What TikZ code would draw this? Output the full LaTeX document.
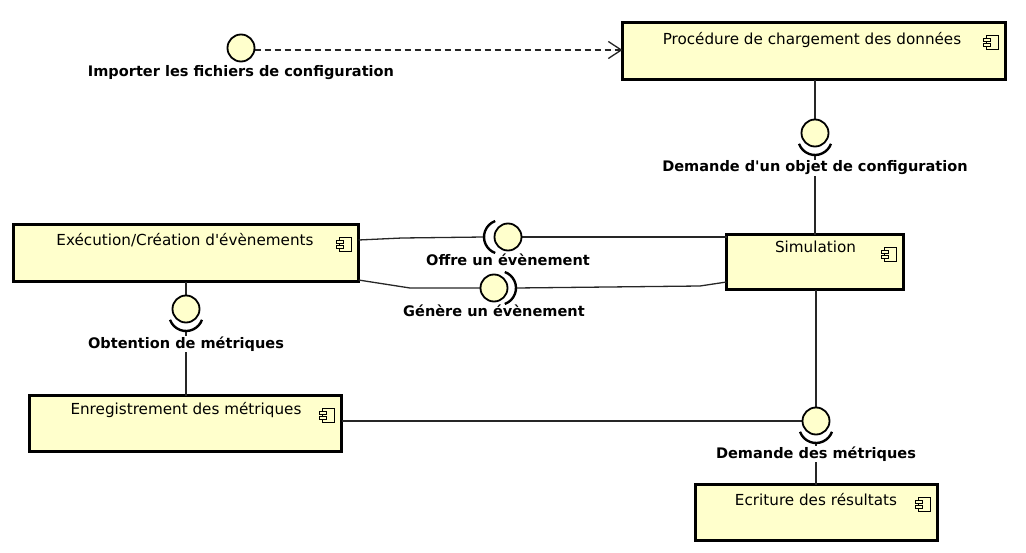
\documentclass[tikz,border=0pt]{standalone}
\usepackage{fontspec}
\setmainfont{DejaVu Sans}[Ligatures=TeXOff]
\usetikzlibrary{arrows.meta,calc}
\definecolor{compfill}{HTML}{FFFFCC}
\tikzset{
  cicon/.pic={
    \draw[line width=0.75pt, fill=compfill] (-12,0) rectangle (0,14);
    \draw[line width=0.75pt, fill=compfill] (-15,3) rectangle (-8,6);
    \draw[line width=0.75pt, fill=compfill] (-15,8) rectangle (-8,11);
  }
}
\begin{document}
\begin{tikzpicture}[x=0.75pt,y=-0.75pt,
  comp/.style={draw=black, line width=2.25pt, fill=compfill, inner sep=0pt, outer sep=0pt},
  comptext/.style={font=\fontsize{11.4}{13}\selectfont, anchor=base, inner sep=0pt},
  ball/.style={circle, draw=black, line width=1.35pt, fill=compfill, minimum size=20.25pt, inner sep=0pt, outer sep=0pt},
  sock/.style={draw=black, line width=1.8pt},
  conn/.style={draw=black!85, line width=0.975pt},
  lbl/.style={font=\fontsize{10.9}{12}\selectfont\bfseries, fill=white, inner sep=0.6pt},
  dep/.style={conn, dash pattern=on 4.5pt off 3pt, -{Straight Barb[length=9.75pt,width=12.75pt]}}
]
\useasboundingbox (0,0) rectangle (1026,553);

% components
\node[comp, minimum width=287.25pt, minimum height=42.75pt] (proc) at (814,51) {};
\node[comp, minimum width=258.75pt, minimum height=42.75pt] (exe) at (186,253) {};
\node[comp, minimum width=132.75pt, minimum height=41.25pt] (sim) at (815,262) {};
\node[comp, minimum width=234pt, minimum height=42pt] (enr) at (185.5,423.5) {};
\node[comp, minimum width=181.5pt, minimum height=42pt] (ecr) at (816.5,512.5) {};

\node[comptext] (tproc) at (812,44) {Procédure de chargement des données};
\node[comptext] (texe) at (185,245) {Exécution/Création d'évènements};
\node[comptext] (tsim) at (815.5,252) {Simulation};
\node[comptext] (tenr) at (186,414) {Enregistrement des métriques};
\node[comptext] (tecr) at (816,505) {Ecriture des résultats};

\pic at ($(proc.north east)+(-7.5,12.5)$) {cicon};
\pic at ($(exe.north east)+(-7.5,12.5)$) {cicon};
\pic at ($(sim.north east)+(-7.5,12.5)$) {cicon};
\pic at ($(enr.north east)+(-7.5,12.5)$) {cicon};
\pic at ($(ecr.north east)+(-7.5,12.5)$) {cicon};

% interface positions
\coordinate (b0c) at (241,48);
\coordinate (b1c) at (815,133);
\coordinate (b2c) at (508,237);
\coordinate (b3c) at (494,288);
\coordinate (b4c) at (186,309);
\coordinate (b5c) at (816,421);

% socket end points
\coordinate (s1) at ($(b1c)+(0,22)$);
\coordinate (s2) at ($(b2c)+(-24,0)$);
\coordinate (s3) at ($(b3c)+(22,0)$);
\coordinate (s4) at ($(b4c)+(0,22)$);
\coordinate (s5) at ($(b5c)+(0,22)$);

% connectors
\coordinate (d0) at ($(b0c)+(13.5,2)$);
\draw[dep] (d0) -- (d0 -| proc.west);
\draw[conn] (b1c |- proc.south) -- ($(b1c)+(0,-13.5)$);
\draw[conn] (s1) -- (s1 |- sim.north);
\draw[conn] ($(exe.north east)+(0,15.5)$) -- (402,238) -- (s2);
\coordinate (o2) at ($(b2c)+(13.5,0)$);
\draw[conn] (o2) -- (o2 -| sim.west);
\draw[conn] ($(exe.south east)+(0,-1.5)$) -- (410,288) -- ($(b3c)+(-13.5,0)$);
\draw[conn] (s3) -- (700,286) -- ($(sim.south west)+(0,-7.5)$);
\draw[conn] (b4c |- exe.south) -- ($(b4c)+(0,-13.5)$);
\draw[conn] (s4) -- (s4 |- enr.north);
\draw[conn] (b5c |- sim.south) -- ($(b5c)+(0,-13.5)$);
\draw[conn] (b5c -| enr.east) -- ($(b5c)+(-13.5,0)$);
\draw[conn] (s5) -- (s5 |- ecr.north);

% labels
\node[lbl] (l0) at (241,73) {Importer les fichiers de configuration};
\node[lbl] (l1) at (815,168) {Demande d'un objet de configuration};
\node[lbl] (l2) at (508,260) {Offre un évènement};
\node[lbl] (l3) at (494,311) {Génère un évènement};
\node[lbl] (l4) at (186,344) {Obtention de métriques};
\node[lbl] (l5) at (816,454) {Demande des métriques};

% balls
\node[ball] (b0) at (b0c) {};
\node[ball] (b1) at (b1c) {};
\node[ball] (b2) at (b2c) {};
\node[ball] (b3) at (b3c) {};
\node[ball] (b4) at (b4c) {};
\node[ball] (b5) at (b5c) {};

% sockets
\draw[sock] ($(b1c)+(0,5)$) ++(20:17) arc[start angle=20, end angle=160, radius=17];
\draw[sock] ($(b4c)+(0,5)$) ++(20:17) arc[start angle=20, end angle=160, radius=17];
\draw[sock] ($(b5c)+(0,5)$) ++(20:17) arc[start angle=20, end angle=160, radius=17];
\draw[sock] ($(b2c)+(-7,0)$) ++(110:17) arc[start angle=110, end angle=250, radius=17];
\draw[sock] ($(b3c)+(5,0)$) ++(-70:17) arc[start angle=-70, end angle=70, radius=17];
\end{tikzpicture}
\end{document}
